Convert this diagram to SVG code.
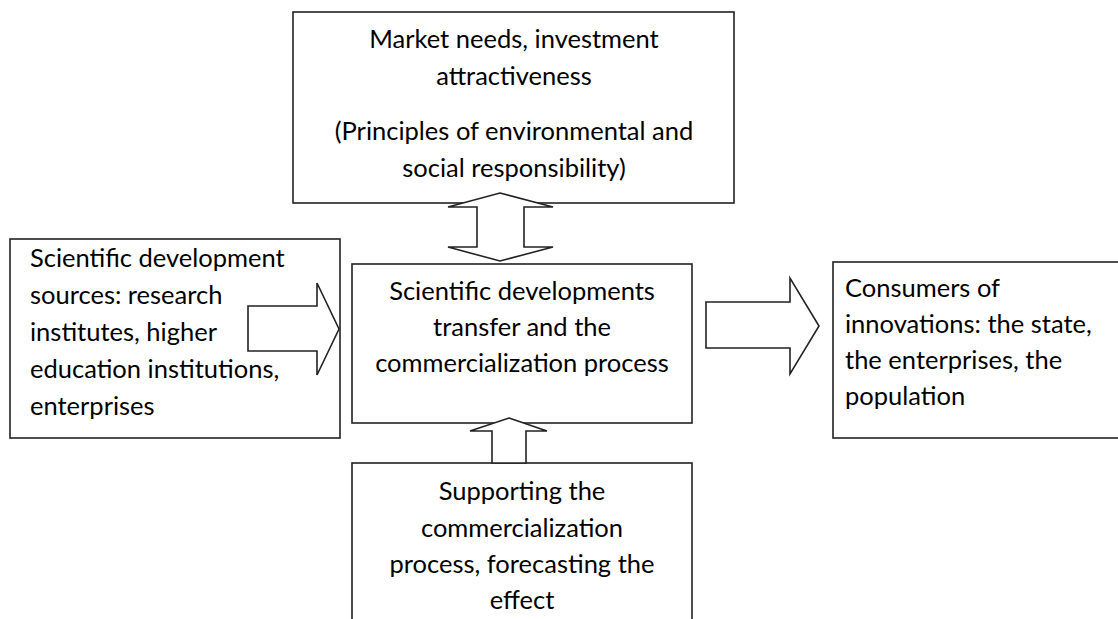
<svg xmlns="http://www.w3.org/2000/svg" width="1118" height="619" viewBox="0 0 1118 619">
<style>
.box{fill:#fff;stroke:#222;stroke-width:1.6}
.arr{fill:#fff;stroke:#222;stroke-width:1.6;stroke-linejoin:miter}
text{font-family:Lato,"Liberation Sans",sans-serif;font-size:25.5px;fill:#000}
.c{text-anchor:middle}
</style>
<rect width="1118" height="619" fill="#fff"/>
<g id="node-market">
<rect class="box" x="293" y="12" width="441" height="191"/>
<text class="c" x="514" y="48">Market needs, investment</text>
<text class="c" x="514" y="85">attractiveness</text>
<text class="c" x="514" y="140">(Principles of environmental and</text>
<text class="c" x="514" y="177">social responsibility)</text>
</g>
<g id="node-sources">
<rect class="box" x="10" y="239" width="330" height="199"/>
<text x="30" y="267">Scientific development</text>
<text x="30" y="304">sources: research</text>
<text x="30" y="341">institutes, higher</text>
<text x="30" y="378">education institutions,</text>
<text x="30" y="415">enterprises</text>
</g>
<g id="node-transfer">
<rect class="box" x="352" y="264" width="340" height="159"/>
<text class="c" x="522" y="300">Scientific developments</text>
<text class="c" x="522" y="336">transfer and the</text>
<text class="c" x="522" y="372">commercialization process</text>
</g>
<g id="node-consumers">
<rect class="box" x="833" y="262" width="300" height="176"/>
<text x="845" y="297">Consumers of</text>
<text x="845" y="333">innovations: the state,</text>
<text x="845" y="369">the enterprises, the</text>
<text x="845" y="405">population</text>
</g>
<g id="node-support">
<rect class="box" x="352" y="463" width="340" height="170"/>
<text class="c" x="522" y="500">Supporting the</text>
<text class="c" x="522" y="537">commercialization</text>
<text class="c" x="522" y="573">process, forecasting the</text>
<text class="c" x="522" y="609">effect</text>
</g>
<g id="connectors">
<polygon class="arr" points="500,193 553,207 524,207 524,247 553,247 500,261 448,247 477,247 477,207 448,207"/>
<polygon class="arr" points="248,306 317,306 317,283 339,329 317,375 317,351 248,351"/>
<polygon class="arr" points="706,302 790,302 790,278 819,326 790,374 790,348 706,348"/>
<polygon class="arr" points="509,418 547,431 526,431 526,463 492,463 492,431 470,431"/>
</g>
</svg>
